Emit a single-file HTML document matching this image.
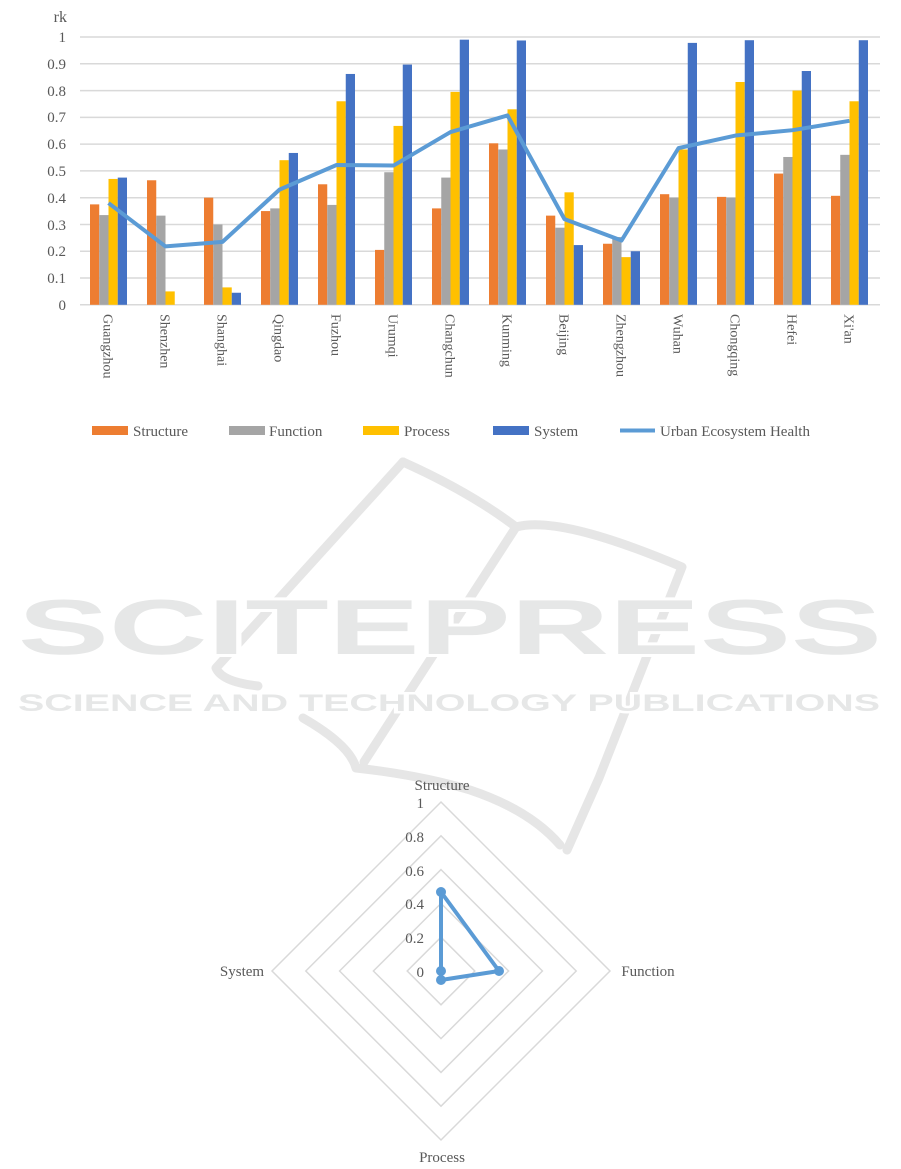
<!DOCTYPE html>
<html><head><meta charset="utf-8"><style>
html,body{margin:0;padding:0;background:#fff;width:901px;height:1169px;overflow:hidden}
svg text{font-family:"Liberation Serif",serif;fill:#595959}
</style></head><body>
<svg width="901" height="1169" viewBox="0 0 901 1169" xmlns="http://www.w3.org/2000/svg">
<!-- watermark -->
<g fill="none" stroke="#e6e6e6" stroke-width="9" stroke-linecap="round" stroke-linejoin="round">
<path d="M403,462 L216,668 Q222,682 258,686"/>
<path d="M403,462 Q470,492 516,527 Q560,515 682,567 L599,778 L567,850"/>
<path d="M516,527 L364,762"/>
<path d="M303,718 Q350,745 356,768 Q420,775 470,790 Q530,810 560,845"/>
</g>
<g font-family="Liberation Sans, sans-serif" font-weight="bold" fill="#e6e7e7">
<text x="18" y="654" textLength="864" lengthAdjust="spacingAndGlyphs" font-size="78" style="font-family:'Liberation Sans',sans-serif;fill:#e6e7e7;stroke:#fff;stroke-width:6;paint-order:stroke">SCITEPRESS</text>
<text x="18" y="711" textLength="862" lengthAdjust="spacingAndGlyphs" font-size="24" style="font-family:'Liberation Sans',sans-serif;fill:#e6e7e7;stroke:#fff;stroke-width:5;paint-order:stroke">SCIENCE AND TECHNOLOGY PUBLICATIONS</text>
</g>
<!-- top chart grid -->
<g stroke="#d9d9d9" stroke-width="1.5">
<line x1="80" x2="880" y1="37" y2="37"/><line x1="80" x2="880" y1="63.8" y2="63.8"/><line x1="80" x2="880" y1="90.6" y2="90.6"/><line x1="80" x2="880" y1="117.4" y2="117.4"/><line x1="80" x2="880" y1="144.1" y2="144.1"/><line x1="80" x2="880" y1="170.9" y2="170.9"/><line x1="80" x2="880" y1="197.7" y2="197.7"/><line x1="80" x2="880" y1="224.5" y2="224.5"/><line x1="80" x2="880" y1="251.2" y2="251.2"/><line x1="80" x2="880" y1="278" y2="278"/><line x1="80" x2="880" y1="304.8" y2="304.8"/>
</g>
<g font-size="15" text-anchor="end">
<text x="66" y="42">1</text><text x="66" y="69">0.9</text><text x="66" y="96">0.8</text><text x="66" y="122">0.7</text><text x="66" y="149">0.6</text><text x="66" y="176">0.5</text><text x="66" y="203">0.4</text><text x="66" y="230">0.3</text><text x="66" y="256">0.2</text><text x="66" y="283">0.1</text><text x="66" y="310">0</text>
<text x="67" y="22" font-size="16">rk</text>
</g>
<g id="bars"></g>
<polyline id="ln" fill="none" stroke="#5B9BD5" stroke-width="4" stroke-linejoin="round"/>
<g id="cats" font-size="14"></g>
<!-- legend -->
<g font-size="15">
<rect x="92" y="426" width="36" height="9" fill="#ED7D31"/><text x="133" y="436">Structure</text>
<rect x="229" y="426" width="36" height="9" fill="#A5A5A5"/><text x="269" y="436">Function</text>
<rect x="363" y="426" width="36" height="9" fill="#FFC000"/><text x="404" y="436">Process</text>
<rect x="493" y="426" width="36" height="9" fill="#4472C4"/><text x="534" y="436">System</text>
<line x1="620" x2="655" y1="430.5" y2="430.5" stroke="#5B9BD5" stroke-width="4"/><text x="660" y="436">Urban Ecosystem Health</text>
</g>
<!-- radar -->
<g fill="none" stroke="#d9d9d9" stroke-width="1.5">
<polygon points="441,937.2 474.8,971 441,1004.8 407.2,971"/>
<polygon points="441,903.4 508.6,971 441,1038.6 373.4,971"/>
<polygon points="441,869.6 542.4,971 441,1072.4 339.6,971"/>
<polygon points="441,835.8 576.2,971 441,1106.2 305.8,971"/>
<polygon points="441,802 610,971 441,1140 272,971"/>
</g>
<g font-size="15" text-anchor="end">
<text x="424" y="808">1</text><text x="424" y="842">0.8</text><text x="424" y="876">0.6</text><text x="424" y="909">0.4</text><text x="424" y="943">0.2</text><text x="424" y="977">0</text>
</g>
<g font-size="15" text-anchor="middle">
<text x="442" y="790">Structure</text>
<text x="242" y="976">System</text>
<text x="648" y="976">Function</text>
<text x="442" y="1162">Process</text>
</g>
<polygon points="441,892 499,971 441,980 441,971" fill="none" stroke="#5B9BD5" stroke-width="4" stroke-linejoin="round"/>
<g fill="#5B9BD5"><circle cx="441" cy="892" r="5"/><circle cx="499" cy="971" r="5"/><circle cx="441" cy="980" r="5"/><circle cx="441" cy="971" r="5"/></g>
<script>
var d=[["Guangzhou",.375,.335,.47,.475,.38],["Shenzhen",.465,.333,.05,0,.218],["Shanghai",.40,.30,.065,.045,.235],["Qingdao",.35,.36,.54,.567,.43],["Fuzhou",.45,.373,.76,.862,.522],["Urumqi",.205,.495,.668,.897,.52],["Changchun",.36,.475,.795,.99,.645],["Kunming",.603,.58,.73,.987,.707],["Beijing",.333,.288,.42,.223,.32],["Zhengzhou",.228,.253,.178,.2,.24],["Wuhan",.413,.40,.58,.978,.585],["Chongqing",.403,.40,.832,.988,.632],["Hefei",.49,.552,.8,.873,.652],["Xi'an",.407,.56,.76,.988,.687]];
var col=["#ED7D31","#A5A5A5","#FFC000","#4472C4"],ns="http://www.w3.org/2000/svg",b=document.getElementById("bars"),c=document.getElementById("cats"),pts=[];
function y(v){return 304.8-v*267.8;}
d.forEach(function(r,i){var cx=108.5+57*i;
for(var k=0;k<4;k++){var e=document.createElementNS(ns,"rect");e.setAttribute("x",cx-18.5+9.25*k);e.setAttribute("width",9.25);e.setAttribute("y",y(r[k+1]));e.setAttribute("height",r[k+1]*267.8);e.setAttribute("fill",col[k]);b.appendChild(e);}
pts.push(cx+","+y(r[5]));
var t=document.createElementNS(ns,"text");t.setAttribute("transform","translate("+(cx-5)+",314) rotate(90)");t.textContent=r[0];c.appendChild(t);});
document.getElementById("ln").setAttribute("points",pts.join(" "));
</script>
</svg>
</body></html>
